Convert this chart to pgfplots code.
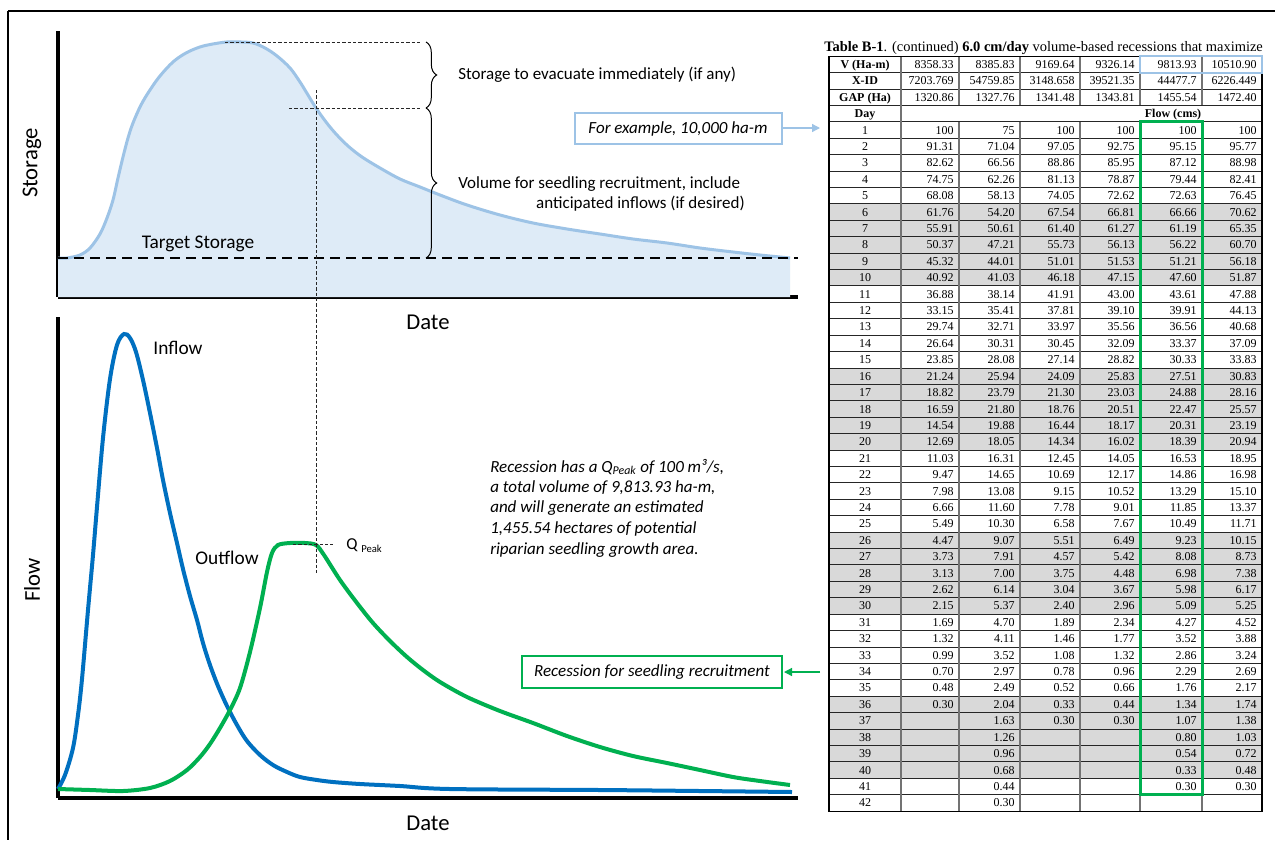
\documentclass[border=0pt]{standalone}
\usepackage{pgfplots}
\pgfplotsset{compat=1.18}
\usepackage{fontspec}
\setmainfont{Carlito}
\newfontfamily\tnr{Liberation Serif}
\usetikzlibrary{decorations.pathreplacing,arrows.meta}
\definecolor{stline}{HTML}{9DC3E6}
\definecolor{stfill}{HTML}{DEEBF7}
\definecolor{inblue}{HTML}{0070C0}
\definecolor{outgreen}{HTML}{00B050}
\definecolor{rowgray}{HTML}{D9D9D9}
\newcommand\fs[1]{\fontsize{#1}{#1}\selectfont}
\newcommand{\trow}[8]{%
  \pgfmathsetmacro{\yb}{64.4+(#1-1)*16.41+4}%
  \node[anchor=base] at (865,\yb) {#2};
  \node[anchor=base east] at (954,\yb) {#3};
  \node[anchor=base east] at (1015,\yb) {#4};
  \node[anchor=base east] at (1075,\yb) {#5};
  \node[anchor=base east] at (1135,\yb) {#6};
  \node[anchor=base east] at (1197,\yb) {#7};
  \node[anchor=base east] at (1257,\yb) {#8};
}
\begin{document}
\begin{tikzpicture}[x=0.75pt,y=-0.75pt]
\path[use as bounding box] (0,0) rectangle (1275,840);
\fill[white] (0,0) rectangle (1275,840);
% frame
\draw[line width=1.5pt] (8,11) -- (1275,11);
\draw[line width=1.5pt] (8,11) -- (8,840);

% ---------- upper axis: storage ----------
\begin{axis}[at={(43.5pt,-222.75pt)}, anchor=south west, scale only axis,
  width=555pt, height=199.5pt, xmin=58, xmax=798, ymin=543, ymax=809,
  axis lines=left, axis line style={line width=3pt,-}, xtick=\empty, ytick=\empty,
  clip=false, y filter/.expression={840-y}]
\addplot[fill=stfill, draw=none, smooth, tension=0.55] coordinates {
(58,258)(67,258)(80,255)(90,248)(100,234)(107,218)(113,200)(118,178)(123,157)(128,138)(133,123)(141,105)(150,90)(160,76)(173,62)(186,53)(200,47)(213,44)(227,42)(240,42)(253,43)(265,48)(277,56)(290,68)(300,82)(308,95)(316,108)(326,122)(336,134)(348,146)(362,157)(380,168)(400,179)(420,187)(440,195)(467,205)(500,215)(533,223)(567,229)(600,234)(633,239)(667,243)(700,248)(733,252)(760,255)(790,258)} \closedcycle;
\addplot[stline, line width=2.25pt, smooth, tension=0.55] coordinates {
(58,258)(67,258)(80,255)(90,248)(100,234)(107,218)(113,200)(118,178)(123,157)(128,138)(133,123)(141,105)(150,90)(160,76)(173,62)(186,53)(200,47)(213,44)(227,42)(240,42)(253,43)(265,48)(277,56)(290,68)(300,82)(308,95)(316,108)(326,122)(336,134)(348,146)(362,157)(380,168)(400,179)(420,187)(440,195)(467,205)(500,215)(533,223)(567,229)(600,234)(633,239)(667,243)(700,248)(733,252)(760,255)(790,258)};
\addplot[black, line width=1.5pt, dash pattern=on 7.5pt off 4.5pt] coordinates {(58,258)(798,258)};
\end{axis}

% ---------- lower axis: flow ----------
\begin{axis}[at={(43.5pt,-598.5pt)}, anchor=south west, scale only axis,
  width=555pt, height=360.75pt, xmin=58, xmax=798, ymin=42, ymax=523,
  axis lines=left, axis line style={line width=3pt,-}, xtick=\empty, ytick=\empty,
  clip=false, y filter/.expression={840-y}]
\addplot[inblue, line width=3pt, smooth, tension=0.55] coordinates {
(58,789)(65,775)(73,748)(78,715)(82,679)(88,610)(93,555)(97,507)(103,438)(110,379)(117,345)(124,334)(130,338)(136,352)(143,380)(150,413)(157,448)(163,480)(170,513)(177,543)(183,569)(190,596)(197,620)(203,643)(210,665)(218,686)(227,706)(237,725)(247,741)(260,755)(273,765)(287,772)(300,777)(317,780)(333,782)(360,784)(400,786)(450,789)(600,790)(700,791)(792,792)};
\addplot[outgreen, line width=3pt, smooth, tension=0.5] coordinates {
(58,789)(90,790)(123,791)(150,788)(170,781)(187,770)(200,757)(210,744)(220,728)(230,710)(240,688)(250,652)(260,608)(267,572)(272,553)(278,545)(290,543)(305,543)(316,545)(324,555)(340,580)(357,603)(373,623)(390,641)(407,657)(423,670)(440,682)(467,697)(500,711)(533,723)(567,736)(600,747)(633,756)(667,763)(700,770)(733,777)(760,781)(790,785)};
\end{axis}

% ---------- annotations ----------
\tikzset{thindash/.style={black!85, line width=0.75pt, dash pattern=on 2.5pt off 1.5pt}}
\draw[thindash] (225,42) -- (420,42);
\draw[thindash] (289,108) -- (420,108);
\draw[thindash] (316,90) -- (316,575);
\draw[thindash] (293,544) -- (333,544);
\draw[line width=0.75pt, decorate, decoration={brace, amplitude=8pt}] (426,42) -- (426,108);
\draw[line width=0.75pt, decorate, decoration={brace, amplitude=8pt}] (426,108) -- (426,258);

\node[rotate=90] at (32,163) {\fs{17}Storage};
\node at (428,322) {\fs{17}Date};
\node[rotate=90] at (32,580) {\fs{17}Flow};
\node at (428,823) {\fs{17}Date};
\node at (198,244) {\fs{14.5}Target Storage};
\node at (178,348) {\fs{14.5}Inflow};
\node at (227,558) {\fs{14.5}Outflow};
\node[anchor=west, inner sep=0] at (346,546) {\fs{12.5}Q \fs{8}\raisebox{-0.6ex}{Peak}};

\node[anchor=west, inner sep=0] at (458,75) {\fs{12.75}Storage to evacuate immediately (if any)};
\node[anchor=west, inner sep=0] at (458,184) {\fs{12.75}Volume for seedling recruitment, include};
\node[anchor=east, inner sep=0] at (745,204) {\fs{12.75}anticipated inflows (if desired)};

\draw[stline, line width=1.5pt] (575,113) rectangle (782,144);
\node at (678,128.5) {\fs{12.75}\itshape For example, 10,000 ha-m};
\draw[stline, line width=1pt, -{Triangle[length=6pt,width=6pt]}] (783,128) -- (820,128);

\draw[outgreen, line width=1.5pt] (522,656) rectangle (782,688);
\node at (652,672) {\fs{12.75}\itshape Recession for seedling recruitment};
\draw[outgreen, line width=1pt, -{Triangle[length=6pt,width=6pt]}] (820,672) -- (784,672);

\begin{scope}[every node/.style={anchor=west, inner sep=0}]
\node at (490,467) {\fs{12.75}\itshape Recession has a Q\textsubscript{Peak} of 100 m³/s,};
\node at (490,488) {\fs{12.75}\itshape a total volume of 9,813.93 ha-m,};
\node at (490,508) {\fs{12.75}\itshape and will generate an estimated};
\node at (490,529) {\fs{12.75}\itshape 1,455.54 hectares of potential};
\node at (490,550) {\fs{12.75}\itshape riparian seedling growth area.};
\end{scope}

% ---------- table ----------
\node[anchor=base west, inner sep=0] at (824,51) {\tnr\fs{10.85}\textbf{Table B-1}. (continued) \textbf{6.0 cm/day} volume-based recessions that maximize};
\foreach \b in {6,16,26,36} {
  \foreach \i in {0,...,4} {
    \pgfmathsetmacro{\yt}{56.2+(\b+\i+3)*16.41}
    \fill[rowgray] (829,\yt) rectangle (1262,\yt+16.41);
  }
}
\begin{scope}[every node/.style={inner sep=0, font=\tnr\fs{9}}]
\trow{1}{\textbf{V (Ha-m)}}{8358.33}{8385.83}{9169.64}{9326.14}{9813.93}{10510.90}
\trow{2}{\textbf{X-ID}}{7203.769}{54759.85}{3148.658}{39521.35}{44477.7}{6226.449}
\trow{3}{\textbf{GAP (Ha)}}{1320.86}{1327.76}{1341.48}{1343.81}{1455.54}{1472.40}
\pgfmathsetmacro{\yb}{64.4+3*16.41+4}
\node[anchor=base] at (865,\yb) {\textbf{Day}};
\node[anchor=base] at (1173,\yb) {\textbf{Flow (cms)}};
\trow{5}{1}{100}{75}{100}{100}{100}{100}
\trow{6}{2}{91.31}{71.04}{97.05}{92.75}{95.15}{95.77}
\trow{7}{3}{82.62}{66.56}{88.86}{85.95}{87.12}{88.98}
\trow{8}{4}{74.75}{62.26}{81.13}{78.87}{79.44}{82.41}
\trow{9}{5}{68.08}{58.13}{74.05}{72.62}{72.63}{76.45}
\trow{10}{6}{61.76}{54.20}{67.54}{66.81}{66.66}{70.62}
\trow{11}{7}{55.91}{50.61}{61.40}{61.27}{61.19}{65.35}
\trow{12}{8}{50.37}{47.21}{55.73}{56.13}{56.22}{60.70}
\trow{13}{9}{45.32}{44.01}{51.01}{51.53}{51.21}{56.18}
\trow{14}{10}{40.92}{41.03}{46.18}{47.15}{47.60}{51.87}
\trow{15}{11}{36.88}{38.14}{41.91}{43.00}{43.61}{47.88}
\trow{16}{12}{33.15}{35.41}{37.81}{39.10}{39.91}{44.13}
\trow{17}{13}{29.74}{32.71}{33.97}{35.56}{36.56}{40.68}
\trow{18}{14}{26.64}{30.31}{30.45}{32.09}{33.37}{37.09}
\trow{19}{15}{23.85}{28.08}{27.14}{28.82}{30.33}{33.83}
\trow{20}{16}{21.24}{25.94}{24.09}{25.83}{27.51}{30.83}
\trow{21}{17}{18.82}{23.79}{21.30}{23.03}{24.88}{28.16}
\trow{22}{18}{16.59}{21.80}{18.76}{20.51}{22.47}{25.57}
\trow{23}{19}{14.54}{19.88}{16.44}{18.17}{20.31}{23.19}
\trow{24}{20}{12.69}{18.05}{14.34}{16.02}{18.39}{20.94}
\trow{25}{21}{11.03}{16.31}{12.45}{14.05}{16.53}{18.95}
\trow{26}{22}{9.47}{14.65}{10.69}{12.17}{14.86}{16.98}
\trow{27}{23}{7.98}{13.08}{9.15}{10.52}{13.29}{15.10}
\trow{28}{24}{6.66}{11.60}{7.78}{9.01}{11.85}{13.37}
\trow{29}{25}{5.49}{10.30}{6.58}{7.67}{10.49}{11.71}
\trow{30}{26}{4.47}{9.07}{5.51}{6.49}{9.23}{10.15}
\trow{31}{27}{3.73}{7.91}{4.57}{5.42}{8.08}{8.73}
\trow{32}{28}{3.13}{7.00}{3.75}{4.48}{6.98}{7.38}
\trow{33}{29}{2.62}{6.14}{3.04}{3.67}{5.98}{6.17}
\trow{34}{30}{2.15}{5.37}{2.40}{2.96}{5.09}{5.25}
\trow{35}{31}{1.69}{4.70}{1.89}{2.34}{4.27}{4.52}
\trow{36}{32}{1.32}{4.11}{1.46}{1.77}{3.52}{3.88}
\trow{37}{33}{0.99}{3.52}{1.08}{1.32}{2.86}{3.24}
\trow{38}{34}{0.70}{2.97}{0.78}{0.96}{2.29}{2.69}
\trow{39}{35}{0.48}{2.49}{0.52}{0.66}{1.76}{2.17}
\trow{40}{36}{0.30}{2.04}{0.33}{0.44}{1.34}{1.74}
\trow{41}{37}{}{1.63}{0.30}{0.30}{1.07}{1.38}
\trow{42}{38}{}{1.26}{}{}{0.80}{1.03}
\trow{43}{39}{}{0.96}{}{}{0.54}{0.72}
\trow{44}{40}{}{0.68}{}{}{0.33}{0.48}
\trow{45}{41}{}{0.44}{}{}{0.30}{0.30}
\trow{46}{42}{}{0.30}{}{}{}{}
\end{scope}
% table lines
\foreach \k in {0,...,46} {
  \pgfmathsetmacro{\yy}{56.2+\k*16.41}
  \draw[black!85, line width=0.7pt] (829,\yy) -- (1262,\yy);
}
\foreach \xx in {959,1020,1080,1140,1202} {
  \draw[black!55, line width=1pt] (\xx,56.2) -- (\xx,105.4);
  \draw[black!55, line width=1pt] (\xx,121.8) -- (\xx,811.1);
}
\foreach \xx in {829,901,1262} {
  \draw[black!55, line width=1pt] (\xx,56.2) -- (\xx,811.1);
}
\draw[black, line width=0.8pt] (829,56.2) rectangle (1262,811.1);
\draw[stline, line width=1.5pt] (1140,56.2) rectangle (1262,72.6);
\draw[outgreen, line width=2.25pt] (1140,121.8) rectangle (1202,794.6);
\end{tikzpicture}
\end{document}
